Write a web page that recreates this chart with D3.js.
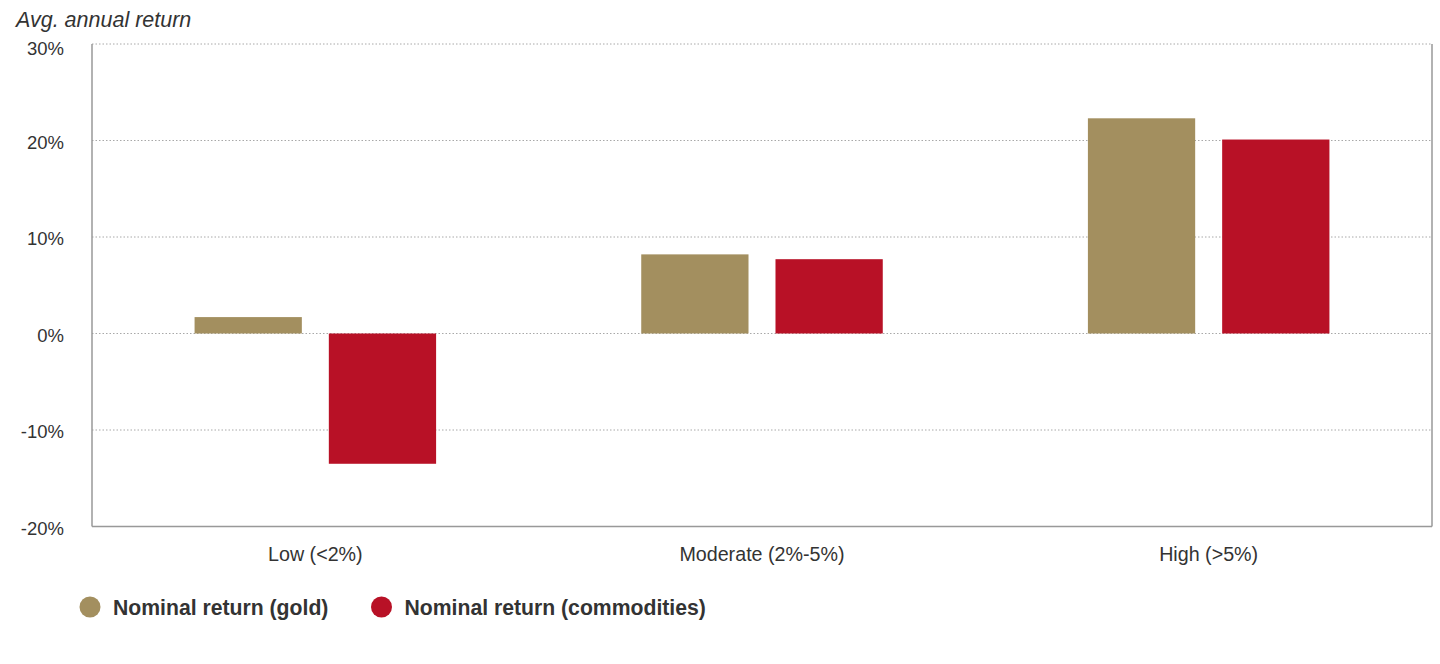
<!DOCTYPE html>
<html>
<head>
<meta charset="utf-8">
<script src="https://cdnjs.cloudflare.com/ajax/libs/d3/7.8.5/d3.min.js"></script>
<style>
  html, body { margin: 0; padding: 0; background: #fff; }
  text { font-family: "Liberation Sans", Arial, Helvetica, sans-serif; fill: #333; }
</style>
</head>
<body>
<div id="chart"></div>
<script>
// data
var categories = ["Low (<2%)", "Moderate (2%-5%)", "High (>5%)"];
var seriesNames = ["Nominal return (gold)", "Nominal return (commodities)"];
var goldValues = [1.7, 8.2, 22.3];
var commodityValues = [-13.5, 7.7, 20.1];
var yTicks = [-20, -10, 0, 10, 20, 30];

var width = 1440, height = 664;
var mLeft = 92, mRight = 1432, mTop = 44, mBottom = 526.5;
var colors = ["#a38f5f", "#b81126"];

var svg = d3.select("#chart").append("svg")
    .attr("width", width).attr("height", height);

var y = d3.scaleLinear().domain([-20, 30]).range([mBottom, mTop]);
var x0 = d3.scaleBand().domain(categories).range([mLeft, mRight]).padding(0);
var x1 = d3.scaleBand().domain(seriesNames).range([0, x0.bandwidth()])
    .paddingInner(0.201).paddingOuter(0.764);

// grid lines
svg.append("g").selectAll("line")
    .data(yTicks.filter(function(d) { return d !== -20; }))
    .enter().append("line")
    .attr("x1", mLeft).attr("x2", mRight)
    .attr("y1", function(d) { return y(d); })
    .attr("y2", function(d) { return y(d); })
    .attr("stroke", "#a8a8a8")
    .attr("stroke-width", 1)
    .attr("stroke-dasharray", "1.5,2");

// bars
var rows = categories.map(function(c, i) {
    return { cat: c, vals: [goldValues[i], commodityValues[i]] };
});

var groups = svg.append("g").selectAll("g")
    .data(rows).enter().append("g")
    .attr("transform", function(d) { return "translate(" + x0(d.cat) + ",0)"; });

groups.selectAll("rect")
    .data(function(d) { return d.vals.map(function(v, j) { return { name: seriesNames[j], v: v, j: j }; }); })
    .enter().append("rect")
    .attr("x", function(d) { return x1(d.name); })
    .attr("width", x1.bandwidth())
    .attr("y", function(d) { return y(Math.max(0, d.v)); })
    .attr("height", function(d) { return Math.abs(y(d.v) - y(0)); })
    .attr("fill", function(d) { return colors[d.j]; });

// frame: left, right, bottom
svg.append("line").attr("x1", mLeft).attr("x2", mLeft).attr("y1", mTop).attr("y2", mBottom)
    .attr("stroke", "#999").attr("stroke-width", 1.5);
svg.append("line").attr("x1", mRight).attr("x2", mRight).attr("y1", mTop).attr("y2", mBottom)
    .attr("stroke", "#999").attr("stroke-width", 1.5);
svg.append("line").attr("x1", mLeft).attr("x2", mRight).attr("y1", mBottom).attr("y2", mBottom)
    .attr("stroke", "#999").attr("stroke-width", 1.5);

// y tick labels
svg.append("g").selectAll("text")
    .data(yTicks).enter().append("text")
    .attr("x", 64)
    .attr("y", function(d) { return d === 30 ? y(d) + 11 : y(d) + 8; })
    .attr("text-anchor", "end")
    .style("font-size", "18.5px")
    .text(function(d) { return d + "%"; });

// axis title
svg.append("text")
    .attr("x", 16).attr("y", 27)
    .style("font-size", "21.5px")
    .style("font-style", "italic")
    .text("Avg. annual return");

// category labels
svg.append("g").selectAll("text")
    .data(categories).enter().append("text")
    .attr("x", function(d) { return x0(d) + x0.bandwidth() / 2; })
    .attr("y", 561)
    .attr("text-anchor", "middle")
    .style("font-size", "19.7px")
    .text(function(d) { return d; });

// legend
var legendX = [90, 381.5];
var legend = svg.append("g").selectAll("g")
    .data(seriesNames).enter().append("g")
    .attr("transform", function(d, i) { return "translate(" + legendX[i] + ",607)"; });
legend.append("circle").attr("r", 10.5)
    .attr("fill", function(d, i) { return colors[i]; });
legend.append("text")
    .attr("x", 23).attr("y", 7.5)
    .style("font-size", "21.2px")
    .style("font-weight", "bold")
    .text(function(d) { return d; });
</script>
</body>
</html>
